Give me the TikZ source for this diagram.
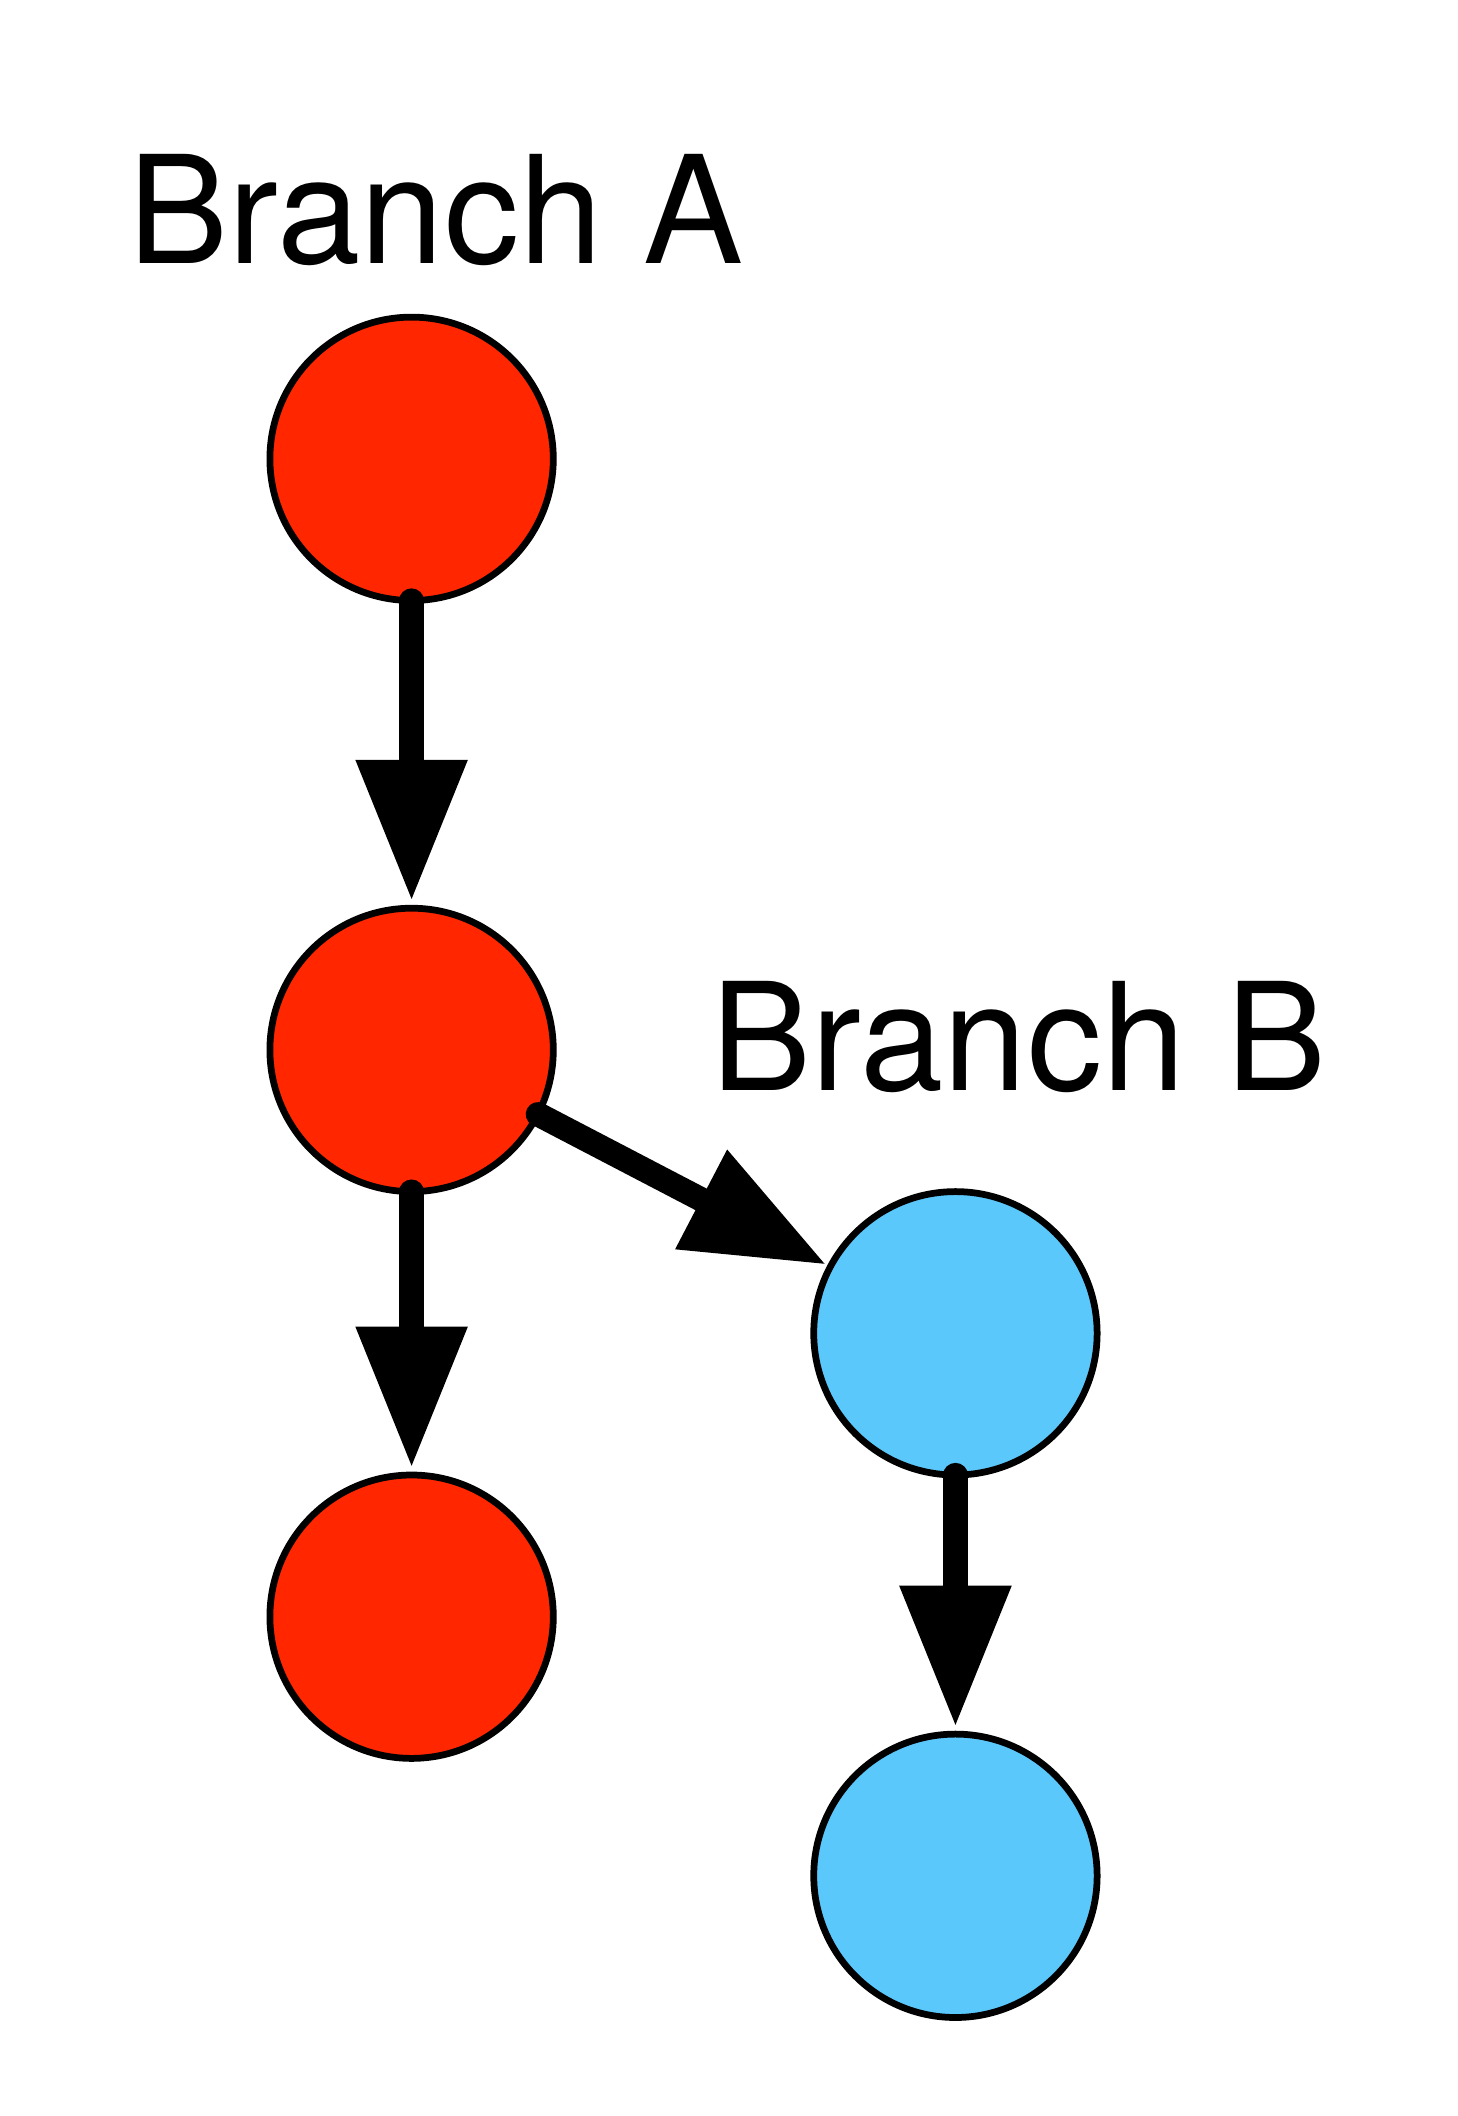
\documentclass[tikz,border=0pt]{standalone}
\usepackage{fontspec}
\setmainfont{TeX Gyre Heros}
\usetikzlibrary{arrows.meta}
\definecolor{nodered}{HTML}{FF2600}
\definecolor{nodeblue}{HTML}{5BC8FC}
\begin{document}
\begin{tikzpicture}[x=1pt,y=-1pt,
  commit/.style={circle,draw=black,line width=5pt,minimum size=210pt,inner sep=0pt,outer sep=0pt},
  redc/.style={commit,fill=nodered},
  bluec/.style={commit,fill=nodeblue},
  conn/.style={line width=18pt,line cap=round,-{Triangle[length=105pt,width=78pt]},shorten >=5pt},
  lbl/.style={anchor=base west,inner sep=0pt,font=\fontsize{111}{120}\selectfont}]
\useasboundingbox (0,0) rectangle (1080,1568);
\node[redc] (a1) at (305,340) {};
\node[redc] (a2) at (305,778) {};
\node[redc] (a3) at (305,1198) {};
\node[bluec] (b1) at (708,988) {};
\node[bluec] (b2) at (708,1390) {};
\node[lbl] (la) at (95,195) {Branch A};
\node[lbl] (lb) at (527,808) {Branch B};
\draw[conn] (a1.south) -- (a2.north);
\draw[conn] (a2.south) -- (a3.north);
\draw[conn] (b1.south) -- (b2.north);
\draw[conn,shorten >=3pt] (a2.-27) -- (b1.152.5);
\end{tikzpicture}
\end{document}
